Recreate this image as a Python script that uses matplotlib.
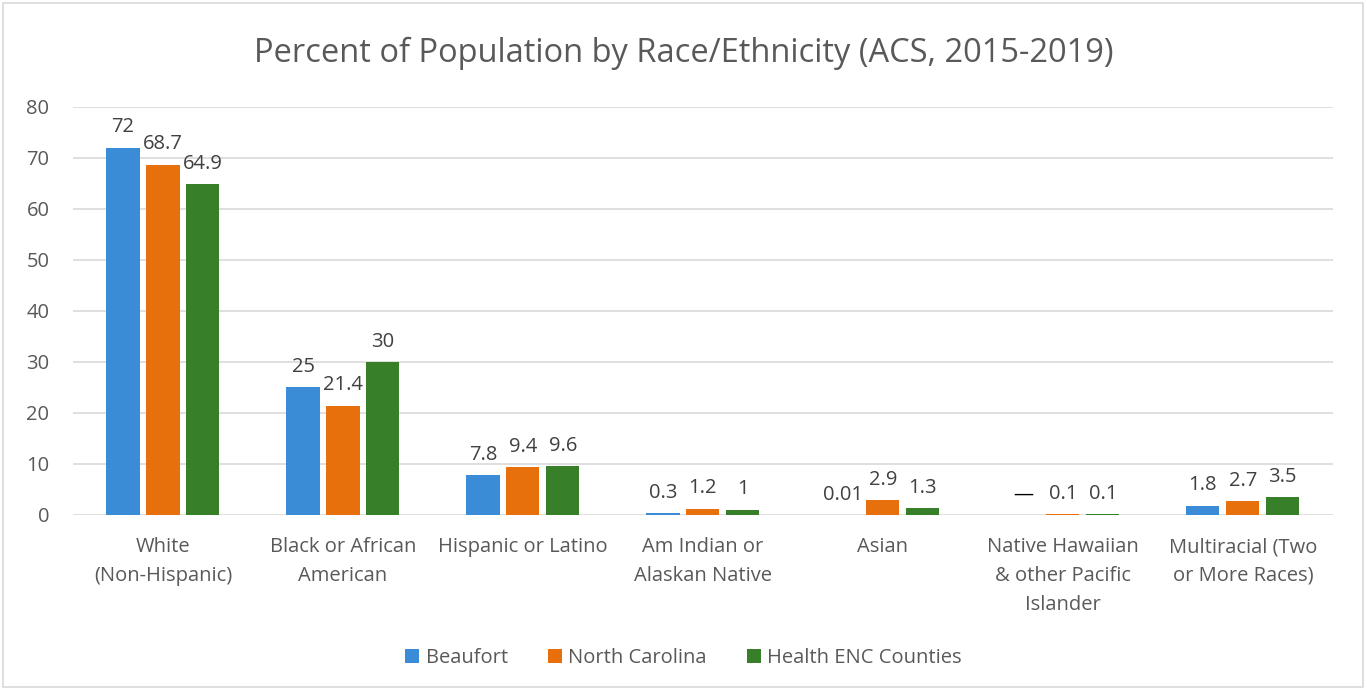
import numpy as np
import matplotlib.pyplot as plt
from matplotlib.patches import Rectangle

plt.rcParams['font.family'] = ['Open Sans', 'DejaVu Sans']

categories = ['White\n(Non-Hispanic)', 'Black or African\nAmerican', 'Hispanic or Latino',
              'Am Indian or\nAlaskan Native', 'Asian', 'Native Hawaiian\n& other Pacific\nIslander',
              'Multiracial (Two\nor More Races)']
beaufort = [72, 25, 7.8, 0.3, 0.01, np.nan, 1.8]
north_carolina = [68.7, 21.4, 9.4, 1.2, 2.9, 0.1, 2.7]
health_enc = [64.9, 30, 9.6, 1, 1.3, 0.1, 3.5]
beaufort_labels = ['72', '25', '7.8', '0.3', '0.01', '\u2014', '1.8']
nc_labels = ['68.7', '21.4', '9.4', '1.2', '2.9', '0.1', '2.7']
enc_labels = ['64.9', '30', '9.6', '1', '1.3', '0.1', '3.5']

series = [
    ('Beaufort', beaufort, beaufort_labels, '#3A8CD7'),
    ('North Carolina', north_carolina, nc_labels, '#E7700D'),
    ('Health ENC Counties', health_enc, enc_labels, '#378029'),
]

fig = plt.figure(figsize=(13.67, 6.88), dpi=100)
fig.patches.append(Rectangle((0.002, 0.002), 0.995, 0.994, transform=fig.transFigure,
                             fill=False, edgecolor='#D9D9D9', linewidth=1.2))
ax = fig.add_axes([0.0534, 0.2515, 0.9216, 0.593])

x = np.arange(len(categories))
step = 0.222
width = 0.184
txt = '#404040'
fs = 14.5
for i, (name, vals, labs, col) in enumerate(series):
    pos = x + (i - 1) * step
    v = np.array(vals, dtype=float)
    ax.bar(pos, np.nan_to_num(v), width, color=col, label=name, zorder=3)
    for p, val, lab in zip(pos, v, labs):
        y = 0 if np.isnan(val) else val
        ax.annotate(lab, (p, y), xytext=(0, 7.5), textcoords='offset points',
                    ha='center', va='bottom', fontsize=fs, color=txt if lab != '\u2014' else 'black')

ax.set_ylim(0, 80)
ax.set_xlim(-0.5, len(categories) - 0.5)
ax.set_yticks(range(0, 81, 10))
ax.yaxis.grid(True, color='#D9D9D9', linewidth=1.2, zorder=0)
for s in ax.spines.values():
    s.set_visible(False)
ax.tick_params(axis='both', length=0, labelsize=fs, labelcolor='#595959')
ax.tick_params(axis='y', pad=17)
ax.tick_params(axis='x', pad=16)
ax.set_xticks(x)
ax.set_xticklabels(categories, linespacing=1.58)

fig.suptitle('Percent of Population by Race/Ethnicity (ACS, 2015-2019)', y=0.922, va='center',
             fontsize=23.5, color='#595959')
fig.legend(loc='center', bbox_to_anchor=(0.5, 0.043), ncol=3, frameon=False,
           fontsize=fs, handlelength=0.7, handleheight=0.7, handletextpad=0.3,
           columnspacing=2.0, labelcolor='#595959')

fig.savefig('out.png', dpi=100)
